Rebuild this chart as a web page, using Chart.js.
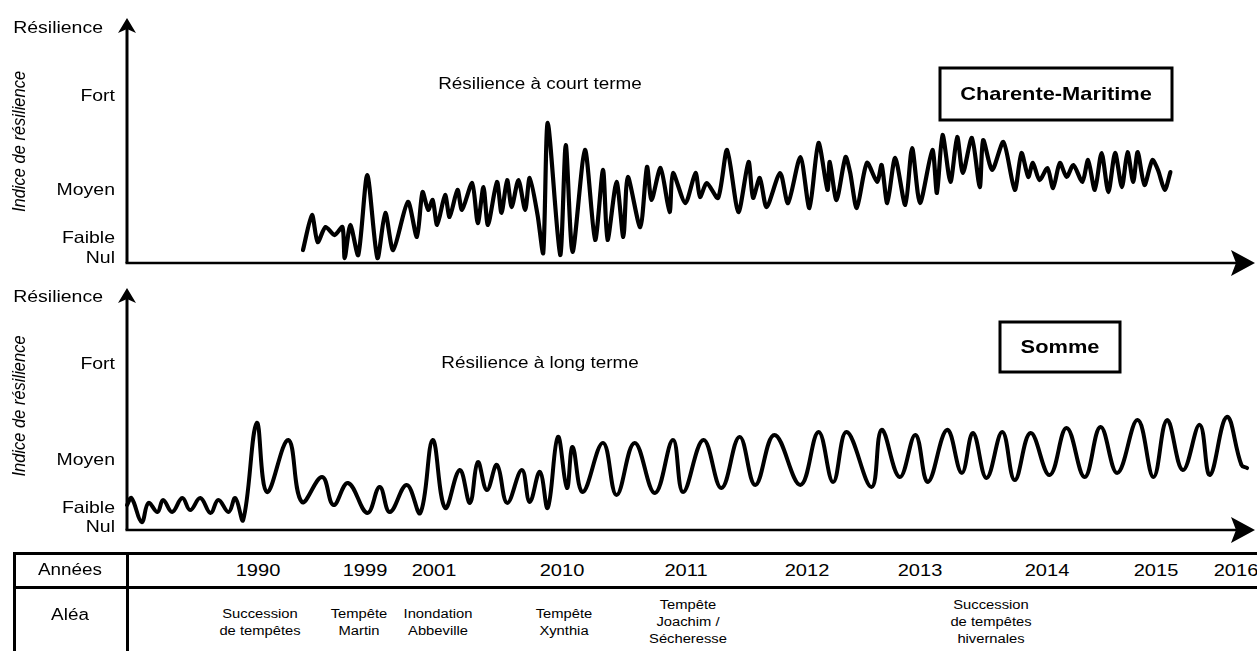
<!DOCTYPE html>
<html lang="fr">
<head>
<meta charset="utf-8">
<title>Résilience</title>
<script src="https://cdn.jsdelivr.net/npm/chart.js"></script>
<style>
  html, body { margin: 0; padding: 0; background: #fff; }
  body { width: 1257px; height: 651px; position: relative; overflow: hidden;
         font-family: 'Liberation Sans', Arial, sans-serif; color: #000; }
  .panel { position: absolute; left: 0; width: 1257px; }
  #p1 { top: 0; height: 280px; }
  #p2 { top: 270px; height: 275px; }
  .rule { position: absolute; background: #000; }
  .txt { position: absolute; white-space: nowrap; text-align: center;
         transform: translate(-50%, -50%) scaleX(1.18); }
  .head { font-size: 16px; }
  .year { font-size: 17px; }
  .alea { font-size: 12.5px; line-height: 17px; }
</style>
</head>
<body>
<div class="panel" id="p1"><canvas id="c1"></canvas></div>
<div class="panel" id="p2"><canvas id="c2"></canvas></div>

<div class="rule" style="left:13px;top:552px;width:1244px;height:3px"></div>
<div class="rule" style="left:13px;top:586px;width:1244px;height:3px"></div>
<div class="rule" style="left:13px;top:552px;width:3px;height:99px"></div>
<div class="rule" style="left:126px;top:552px;width:3px;height:99px"></div>
<div class="txt head" style="left:70px;top:570px">Années</div>
<div class="txt head" style="left:70px;top:615px">Aléa</div>
<div id="cells"></div>

<script>
// --- données (temps 0-100 le long de l'axe, indice 0-100) ---
const tickLabels = ['Nul', 'Faible', 'Moyen', 'Fort'];
const topTicks = [2, 10.6, 31, 71];
const bottomTicks = [1, 9, 29, 69];

// Charente-Maritime : résilience à court terme
const topT = [15.6, 16.4, 16.9, 17.6, 18.4, 19.1, 19.3, 19.8, 20.5, 21.3, 22.2, 22.9, 23.6, 24.9, 25.7,
  26.2, 26.7, 27.1, 27.5, 28.2, 28.6, 29.3, 29.7, 30.6, 31.1, 31.6, 32.0, 32.8, 33.2, 33.7,
  34.1, 34.7, 35.3, 35.7, 36.4, 36.9, 37.3, 38.4, 38.9, 39.5, 40.6, 41.5, 42.2, 42.6, 43.4,
  44.0, 44.4, 45.5, 46.1, 46.5, 47.3, 48.1, 48.4, 49.5, 50.4, 50.8, 51.4, 52.4, 53.2, 54.2,
  55.1, 55.5, 56.1, 56.7, 57.9, 58.6, 59.7, 60.5, 61.3, 62.1, 62.3, 62.9, 63.7, 64.1, 64.7,
  65.6, 66.5, 66.9, 67.4, 68.1, 69.0, 69.6, 70.3, 71.4, 71.8, 72.3, 73.0, 73.6, 74.1, 74.9,
  75.6, 75.9, 76.7, 77.7, 78.7, 79.3, 79.9, 80.3, 80.9, 81.6, 82.1, 82.7, 83.3, 83.9, 84.7,
  85.2, 85.8, 86.4, 87.0, 87.6, 88.2, 88.7, 89.2, 89.6, 90.2, 90.9, 91.4, 92.0, 92.5];
const topV = [5.5, 20.4, 8.9, 15.3, 11.9, 15.3, 2.1, 16.2, 3.4, 37.4, 2.1, 21.3, 5.5, 26.0, 11.1,
  30.2, 22.6, 26.8, 16.2, 28.9, 19.6, 31.1, 22.6, 34.0, 17.0, 32.3, 16.2, 34.5, 21.3, 35.3,
  23.8, 35.3, 22.6, 36.2, 20.4, 4.3, 59.6, 3.4, 50.2, 4.7, 48.1, 9.8, 39.6, 9.8, 34.5,
  11.1, 36.6, 15.3, 40.9, 26.8, 40.4, 21.7, 38.3, 25.5, 38.3, 28.1, 34.0, 27.7, 48.1, 21.7,
  43.0, 27.7, 36.2, 23.8, 38.3, 25.5, 45.1, 23.4, 51.1, 31.1, 43.0, 26.8, 45.1, 38.7, 23.4,
  42.6, 34.5, 41.7, 25.5, 44.7, 24.7, 48.9, 25.5, 48.1, 29.8, 54.5, 34.5, 53.6, 38.3, 53.2,
  32.3, 52.3, 39.6, 51.5, 31.1, 46.8, 36.6, 42.6, 35.3, 40.4, 31.9, 42.6, 36.6, 41.7, 34.5,
  43.8, 31.1, 46.8, 30.2, 46.8, 32.3, 47.2, 34.5, 47.2, 33.2, 43.8, 39.6, 31.1, 38.7];

// Somme : résilience à long terme
const botT = [0.0, 0.4, 1.3, 1.9, 2.7, 3.2, 4.0, 4.9, 5.6, 6.5, 7.4, 8.1, 9.0, 9.6, 10.3,
  11.5, 12.4, 14.3, 15.5, 17.3, 18.3, 19.6, 21.3, 22.4, 23.3, 24.8, 26.0, 27.1, 28.2, 29.5,
  30.4, 31.1, 31.9, 32.8, 33.7, 35.0, 35.7, 36.6, 37.3, 38.2, 39.0, 39.5, 40.4, 42.2, 43.4,
  45.0, 46.8, 48.4, 49.3, 51.1, 52.7, 54.3, 55.7, 57.4, 59.7, 61.3, 62.6, 63.8, 66.0, 66.9,
  68.5, 69.9, 71.0, 72.7, 74.0, 75.0, 76.2, 77.6, 78.7, 80.1, 81.8, 83.3, 84.9, 86.3, 87.8,
  89.6, 91.0, 92.2, 93.6, 95.1, 96.0, 97.5, 98.8, 99.3];
const botV = [10.4, 13.3, 3.3, 11.3, 7.5, 12.5, 7.5, 13.3, 8.3, 13.3, 7.1, 12.5, 7.5, 13.3, 4.2,
  44.6, 15.8, 37.5, 11.7, 22.1, 10.4, 19.6, 7.1, 17.9, 7.5, 18.8, 7.1, 37.5, 9.2, 25.0,
  11.3, 28.3, 16.7, 27.1, 11.3, 25.0, 11.7, 24.2, 9.2, 38.8, 17.5, 34.6, 15.8, 36.3, 14.6,
  36.3, 15.4, 37.5, 15.8, 37.5, 17.5, 38.8, 18.8, 39.6, 18.8, 40.8, 20.0, 40.8, 17.9, 41.7,
  22.1, 39.6, 20.0, 41.7, 23.8, 40.4, 21.7, 40.8, 20.8, 40.4, 22.9, 42.5, 22.1, 42.9, 23.8,
  45.8, 22.1, 45.8, 25.0, 43.8, 22.9, 47.1, 27.1, 25.8];

// tableau : années et aléas, placés sur l'axe du temps
const years = ['1990', '1999', '2001', '2010', '2011', '2012', '2013', '2014', '2015', '2016'];
const yearT = [11.6, 21.1, 27.2, 38.6, 49.6, 60.3, 70.3, 81.6, 91.2, 98.3];
const aleas = [['Succession', 'de tempêtes'], ['Tempête', 'Martin'], ['Inondation', 'Abbeville'],
  ['Tempête', 'Xynthia'], ['Tempête', 'Joachim /', 'Sécheresse'], ['Succession', 'de tempêtes', 'hivernales']];
const aleaT = [11.8, 20.6, 27.6, 38.7, 49.7, 76.6];

const FONT = "'Liberation Sans', Arial, sans-serif";

// texte un peu élargi, comme dans la figure d'origine
function wideText(ctx, text, x, y, font, align) {
  ctx.save();
  ctx.translate(x, y);
  ctx.scale(1.18, 1);
  ctx.font = font;
  ctx.textAlign = align || 'center';
  ctx.textBaseline = 'middle';
  ctx.fillText(text, 0, 0);
  ctx.restore();
}

// axes fléchés, graduations, titres et encadré
const decoPlugin = {
  id: 'deco',
  afterDraw(chart, args, o) {
    const { ctx, chartArea: a } = chart;
    const ys = chart.scales.y;
    ctx.save();
    ctx.fillStyle = '#000';
    ctx.strokeStyle = '#000';

    // axe vertical
    const tip = a.top + o.yTip;
    ctx.lineWidth = 3;
    ctx.beginPath();
    ctx.moveTo(a.left, a.bottom);
    ctx.lineTo(a.left, tip + 8);
    ctx.stroke();
    ctx.beginPath();
    ctx.moveTo(a.left, tip);
    ctx.lineTo(a.left + 9, tip + 15);
    ctx.lineTo(a.left, tip + 11);
    ctx.lineTo(a.left - 9, tip + 15);
    ctx.closePath();
    ctx.fill();

    // axe horizontal
    ctx.lineWidth = 2.5;
    ctx.beginPath();
    ctx.moveTo(a.left - 1.5, a.bottom);
    ctx.lineTo(a.right - 10, a.bottom);
    ctx.stroke();
    ctx.beginPath();
    ctx.moveTo(a.right, a.bottom);
    ctx.lineTo(a.right - 24, a.bottom - 13);
    ctx.lineTo(a.right - 19, a.bottom);
    ctx.lineTo(a.right - 24, a.bottom + 13);
    ctx.closePath();
    ctx.fill();

    // graduations qualitatives
    o.ticks.forEach((v, i) => {
      wideText(ctx, tickLabels[i], a.left - 12, ys.getPixelForValue(v), '16.5px ' + FONT, 'right');
    });

    // libellés
    wideText(ctx, 'Résilience', 103, o.resY, '16.5px ' + FONT, 'right');
    wideText(ctx, o.subtitle, 540, o.subY, '16px ' + FONT);

    ctx.save();
    ctx.translate(20, (a.top + a.bottom) / 2 - 4);
    ctx.rotate(-Math.PI / 2);
    ctx.scale(1, 1.1);
    ctx.font = 'italic 16.5px ' + FONT;
    ctx.textAlign = 'center';
    ctx.textBaseline = 'middle';
    ctx.fillText('Indice de résilience', 0, 0);
    ctx.restore();

    const [bx, by, bw, bh] = o.box;
    ctx.lineWidth = 3;
    ctx.strokeRect(bx, by, bw, bh);
    wideText(ctx, o.boxText, bx + bw / 2, by + bh / 2 + 1, 'bold 18.5px ' + FONT);
    ctx.restore();
  }
};

function makePanel(id, t, v, ticks, lineWidth, tension, padding, deco) {
  deco.ticks = ticks;
  return new Chart(document.getElementById(id), {
    type: 'line',
    data: {
      datasets: [{
        data: t.map((x, i) => ({ x, y: v[i] })),
        borderColor: '#000',
        borderWidth: lineWidth,
        pointRadius: 0,
        tension: tension,
        fill: false,
        clip: false,
        borderJoinStyle: 'round',
        borderCapStyle: 'round'
      }]
    },
    options: {
      responsive: true,
      maintainAspectRatio: false,
      animation: false,
      events: [],
      layout: { padding: padding },
      plugins: { legend: { display: false }, tooltip: { enabled: false }, deco: deco },
      scales: {
        x: { type: 'linear', min: 0, max: 100, display: false },
        y: { type: 'linear', min: 0, max: 100, display: false }
      }
    },
    plugins: [decoPlugin]
  });
}

const topChart = makePanel('c1', topT, topV, topTicks, 4.2, 0.25,
  { top: 28, bottom: 17, left: 127, right: 2 },
  { yTip: -10, resY: 28, subtitle: 'Résilience à court terme', subY: 85,
    box: [940, 68, 232, 52], boxText: 'Charente-Maritime' });

const bottomChart = makePanel('c2', botT, botV, bottomTicks, 4, 0.4,
  { top: 20, bottom: 15, left: 127, right: 2 },
  { yTip: -2, resY: 27, subtitle: 'Résilience à long terme', subY: 94,
    box: [1000, 52, 120, 50], boxText: 'Somme' });

// cellules du tableau, alignées sur l'échelle du temps
const xs = bottomChart.scales.x;
const cells = document.getElementById('cells');
years.forEach((y, i) => {
  const d = document.createElement('div');
  d.className = 'txt year';
  d.style.left = xs.getPixelForValue(yearT[i]) + 'px';
  d.style.top = '571px';
  d.textContent = y;
  cells.appendChild(d);
});
aleas.forEach((lines, i) => {
  const d = document.createElement('div');
  d.className = 'txt alea';
  d.style.left = xs.getPixelForValue(aleaT[i]) + 'px';
  d.style.top = (lines.length === 3 ? 622 : 623) + 'px';
  d.innerHTML = lines.join('<br>');
  cells.appendChild(d);
});
</script>
</body>
</html>
